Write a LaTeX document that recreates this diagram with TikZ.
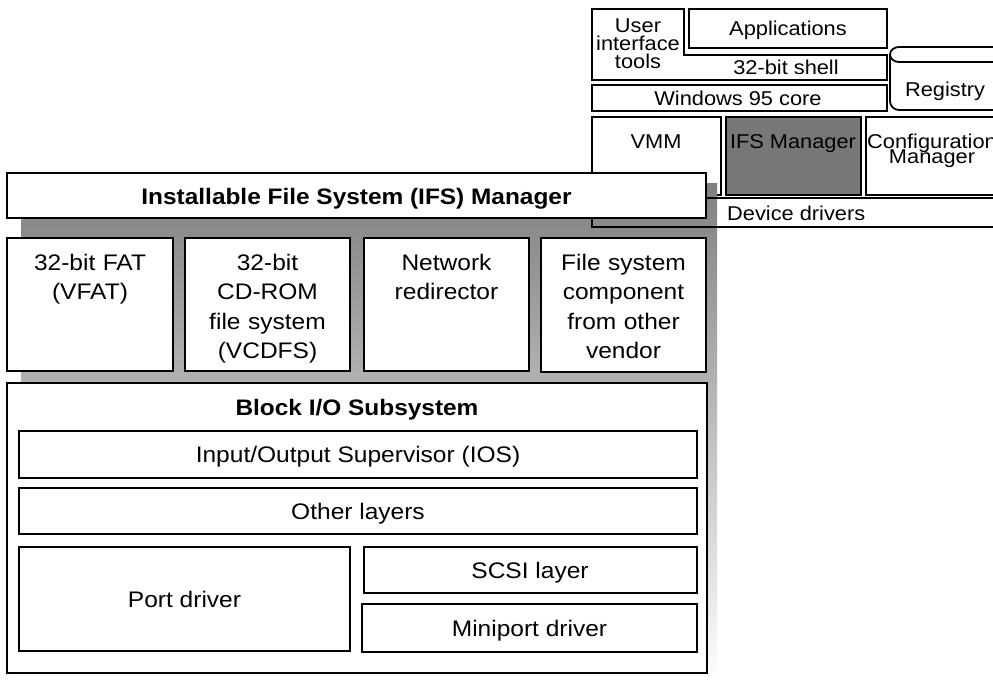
\documentclass[tikz,border=0pt]{standalone}
\usepackage{fontspec}
\setmainfont{Liberation Sans}[FakeStretch=1.09]
\usetikzlibrary{fit}
\definecolor{shade}{RGB}{200,200,200}
\definecolor{ifsgray}{RGB}{119,119,119}
\newcommand\mytight{\lineskiplimit=-100pt\relax\lineskip=0pt\relax}
\newcommand\mybigfont{\fontsize{22.5}{29.5}\selectfont\mytight}
\newcommand\mysmallfont{\fontsize{20}{18}\selectfont\mytight}
\newcommand\mycfgfont{\fontsize{20}{15.5}\selectfont\mytight}
\tikzset{
  boxst/.style={draw, line width=1.8pt, fill=white, inner sep=0pt},
  lnst/.style={line width=1.8pt},
  bigt/.style={font=\mybigfont, inner sep=0pt, anchor=base, align=center},
  bigtw/.style={bigt, text width=150pt},
  boldt/.style={font=\bfseries\fontsize{22.4}{26}\selectfont, inner sep=0pt, anchor=base},
  smallt/.style={font=\mysmallfont, inner sep=0pt, anchor=base, align=center},
}
\begin{document}
\begin{tikzpicture}[x=1pt,y=-1pt]
\useasboundingbox (0,0) rectangle (993,683);
\clip (0,0) rectangle (993,683);
% ---- small Windows 95 overview (top right) ----
\draw[lnst, fill=white] (592,9) -- (684,9) -- (684,55) -- (887,55) -- (887,80) -- (592,80) -- cycle;
\node[boxst, fit={(689,9) (887,48)}] (apps) {};
\node[boxst, fit={(592,85) (887,111)}] (core) {};
\fill[white] (890,47) rectangle (1010,110);
\draw[lnst] (1010,47) -- (899,47) to[out=180,in=90] (890,54.5) to[out=-90,in=180] (899,62) -- (1010,62);
\draw[lnst] (890,54.5) -- (890,101) to[out=-90,in=180] (899,110) -- (1010,110);
\node[boxst, fit={(592,117) (721,195)}] (vmm) {};
\node[boxst, fill=ifsgray, fit={(726,117) (861,195)}] (ifsm) {};
\node[boxst, fit={(866,117) (1000,195)}] (cfg) {};
\node[smallt, text width=92pt] (uit) at (638,32) {User\\interface\\tools};
\node[smallt] (appt) at (788,35) {Applications};
\node[smallt] (shellt) at (786,74) {32-bit shell};
\node[smallt] (coret) at (738,105) {Windows 95 core};
\node[smallt] (regt) at (945,96) {Registry};
\node[smallt] (vmmt) at (656,148) {VMM};
\node[smallt] (ifsmt) at (793,148) {IFS Manager};
\node[smallt, text width=140pt, font=\mycfgfont] (cfgt) at (932,148) {Configuration\\Manager};
% ---- shadow ----
\fill[shade] (21,183) rectangle (717,683);
\node[boxst, fill=none, fit={(592,198) (1000,227)}] (dev) {};
\node[smallt, anchor=base west] (devt) at (727,220) {Device drivers};
% ---- IFS manager bar ----
\node[boxst, fit={(7,173) (706,218)}] (ifs) {};
\node[boldt] (ifst) at (356.5,204) {Installable File System (IFS) Manager};
% ---- file system drivers ----
\node[boxst, fit={(7,238) (173,371)}] (fat) {};
\node[boxst, fit={(185,238) (350,371)}] (cdfs) {};
\node[boxst, fit={(364,238) (529,371)}] (net) {};
\node[boxst, fit={(541,238) (706,372)}] (other) {};
\node[bigtw] (fatt) at (90,270) {32-bit FAT\\(VFAT)};
\node[bigtw] (cdfst) at (267.5,270) {32-bit\\CD-ROM\\file system\\(VCDFS)};
\node[bigtw] (nett) at (446.5,270) {Network\\redirector};
\node[bigtw] (othert) at (623.5,270) {File system\\component\\from other\\vendor};
% ---- block I/O subsystem ----
\node[boxst, fit={(7,383) (707,673)}] (bio) {};
\node[boldt] (biot) at (357,415) {Block I/O Subsystem};
\node[boxst, fit={(19,431) (697,478)}] (ios) {};
\node[bigt] (iost) at (358,462) {Input/Output Supervisor (IOS)};
\node[boxst, fit={(19,488) (697,534)}] (layers) {};
\node[bigt] (layerst) at (358,519) {Other layers};
\node[boxst, fit={(19,547) (350,651)}] (port) {};
\node[bigt] (portt) at (184.5,607) {Port driver};
\node[boxst, fit={(364,547) (697,593)}] (scsi) {};
\node[bigt] (scsit) at (530,578) {SCSI layer};
\node[boxst, fit={(362,604) (697,652)}] (mini) {};
\node[bigt] (minit) at (529.5,636) {Miniport driver};
\end{tikzpicture}
\end{document}
